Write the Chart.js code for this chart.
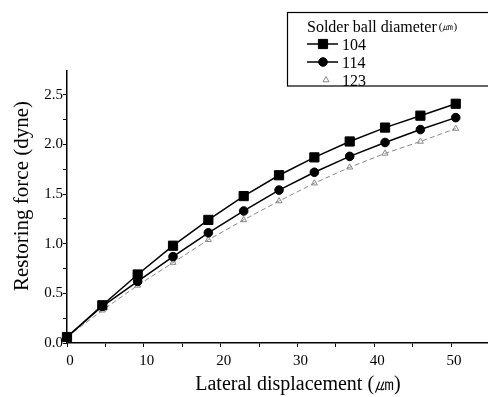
<!DOCTYPE html>
<html>
<head>
<meta charset="utf-8">
<script src="https://cdn.jsdelivr.net/npm/chart.js@4"></script>
<style>
  html, body { margin: 0; padding: 0; background: #fff; }
</style>
</head>
<body>
<canvas id="myChart" width="488" height="397"></canvas>
<script>
'use strict';

// DATA
let displacement = [0, 4.6, 9.2, 13.8, 18.4, 23, 27.6, 32.2, 36.8, 41.4, 46, 50.6];
let force104 = [0.06, 0.38, 0.69, 0.98, 1.24, 1.48, 1.69, 1.87, 2.03, 2.17, 2.29, 2.41];
let force114 = [0.06, 0.37, 0.62, 0.87, 1.11, 1.33, 1.54, 1.72, 1.88, 2.02, 2.15, 2.27];
let force123 = [0.06, 0.33, 0.58, 0.81, 1.04, 1.24, 1.43, 1.61, 1.77, 1.91, 2.03, 2.16];
let seriesNames = ['104', '114', '123'];
let xTickLabels = [0, 10, 20, 30, 40, 50];
let yTickLabels = [0, 0.5, 1, 1.5, 2, 2.5];

const serif = '"Liberation Serif", "DejaVu Serif", serif';

function toPoints(values) {
  let pts = [];
  for (let i = 0; i < values.length; i++) {
    pts.push({ x: displacement[i], y: values[i] });
  }
  return pts;
}

// legend box + axis titles, drawn on top
const extras = {
  id: 'extras',
  afterDraw(chart) {
    const ctx = chart.ctx;
    ctx.save();
    ctx.fillStyle = '#000';

    // axis titles
    ctx.font = '21px ' + serif;
    ctx.textAlign = 'center';
    ctx.textBaseline = 'middle';
    ctx.save();
    ctx.translate(22, 196);
    ctx.rotate(-Math.PI / 2);
    ctx.fillText('Restoring force (dyne)', 0, 0);
    ctx.restore();
    ctx.font = '20px ' + serif;
    ctx.fillText('Lateral displacement (\u339B)', 298, 385);

    // legend box
    ctx.strokeStyle = '#000';
    ctx.lineWidth = 1.2;
    ctx.strokeRect(287.5, 12.5, 220, 73.5);

    ctx.textAlign = 'left';
    ctx.textBaseline = 'alphabetic';
    ctx.font = '16px ' + serif;
    ctx.fillText('Solder ball diameter', 307, 32);
    let w = ctx.measureText('Solder ball diameter').width;
    ctx.font = '11px ' + serif;
    ctx.fillText('(\u339B)', 307 + w + 2, 30);

    let rows = [44, 62, 80];
    ctx.font = '16px ' + serif;
    chart.data.datasets.forEach(function (ds, i) {
      let y = rows[i];
      if (!ds.borderDash) {
        ctx.beginPath();
        ctx.strokeStyle = ds.borderColor;
        ctx.lineWidth = ds.borderWidth;
        ctx.moveTo(307, y);
        ctx.lineTo(338, y);
        ctx.stroke();
      }
      ctx.fillStyle = ds.pointBackgroundColor;
      ctx.strokeStyle = ds.pointBorderColor;
      ctx.lineWidth = ds.pointBorderWidth;
      Chart.helpers.drawPoint(ctx, {
        pointStyle: ds.pointStyle,
        radius: ds.pointRadius,
        rotation: 0,
        borderWidth: ds.pointBorderWidth
      }, i === 2 ? 326 : 323, y);
      ctx.fillStyle = '#000';
      ctx.fillText(seriesNames[i], 342, y + 6);
    });
    ctx.restore();
  }
};

const ctx = document.getElementById('myChart');
const myChart = new Chart(ctx, {
  type: 'line',
  data: {
    datasets: [{
      label: seriesNames[0],
      data: toPoints(force104),
      borderColor: '#000',
      borderWidth: 1.5,
      pointStyle: 'rect',
      pointRadius: 6.5,
      pointBackgroundColor: '#000',
      pointBorderColor: '#000',
      pointBorderWidth: 1,
      clip: false
    },
    {
      label: seriesNames[1],
      data: toPoints(force114),
      borderColor: '#000',
      borderWidth: 1.5,
      pointStyle: 'circle',
      pointRadius: 4.3,
      pointBackgroundColor: '#000',
      pointBorderColor: '#000',
      pointBorderWidth: 1,
      clip: false
    },
    {
      label: seriesNames[2],
      data: toPoints(force123),
      borderColor: '#888',
      borderWidth: 1,
      borderDash: [5, 3],
      pointStyle: 'triangle',
      pointRadius: 3.5,
      pointBackgroundColor: 'rgba(0,0,0,0)',
      pointBorderColor: '#888',
      pointBorderWidth: 1,
      clip: false
    }]
  },
  options: {
    responsive: false,
    animation: false,
    devicePixelRatio: 1,
    layout: { autoPadding: false, padding: { top: 71, left: 0, right: 0, bottom: 0 } },
    plugins: {
      legend: { display: false },
      tooltip: { enabled: false }
    },
    scales: {
      x: {
        type: 'linear',
        min: 0,
        max: 54.8,
        afterFit: function (scale) {
          scale.height = 54;
          scale.paddingLeft = 0;
          scale.paddingRight = 0;
        },
        border: { display: true, color: '#000', width: 1.5 },
        grid: { drawOnChartArea: false, drawTicks: true, tickLength: 4, color: '#000' },
        ticks: {
          stepSize: 5,
          includeBounds: false,
          autoSkip: false,
          maxRotation: 0,
          padding: 5,
          labelOffset: 3,
          color: '#000',
          font: { family: serif, size: 15 },
          callback: function (v) { return xTickLabels.includes(v) ? String(v) : ''; }
        }
      },
      y: {
        min: 0,
        max: 2.74,
        afterFit: function (scale) {
          scale.width = 67;
          scale.paddingTop = 0;
          scale.paddingBottom = 0;
        },
        border: { display: true, color: '#000', width: 1.5 },
        grid: { drawOnChartArea: false, drawTicks: true, tickLength: 4, color: '#000' },
        ticks: {
          stepSize: 0.25,
          includeBounds: false,
          autoSkip: false,
          padding: 0,
          color: '#000',
          font: { family: serif, size: 15 },
          callback: function (v) { return yTickLabels.includes(v) ? v.toFixed(1) : ''; }
        }
      }
    }
  },
  plugins: [extras]
});
</script>
</body>
</html>
